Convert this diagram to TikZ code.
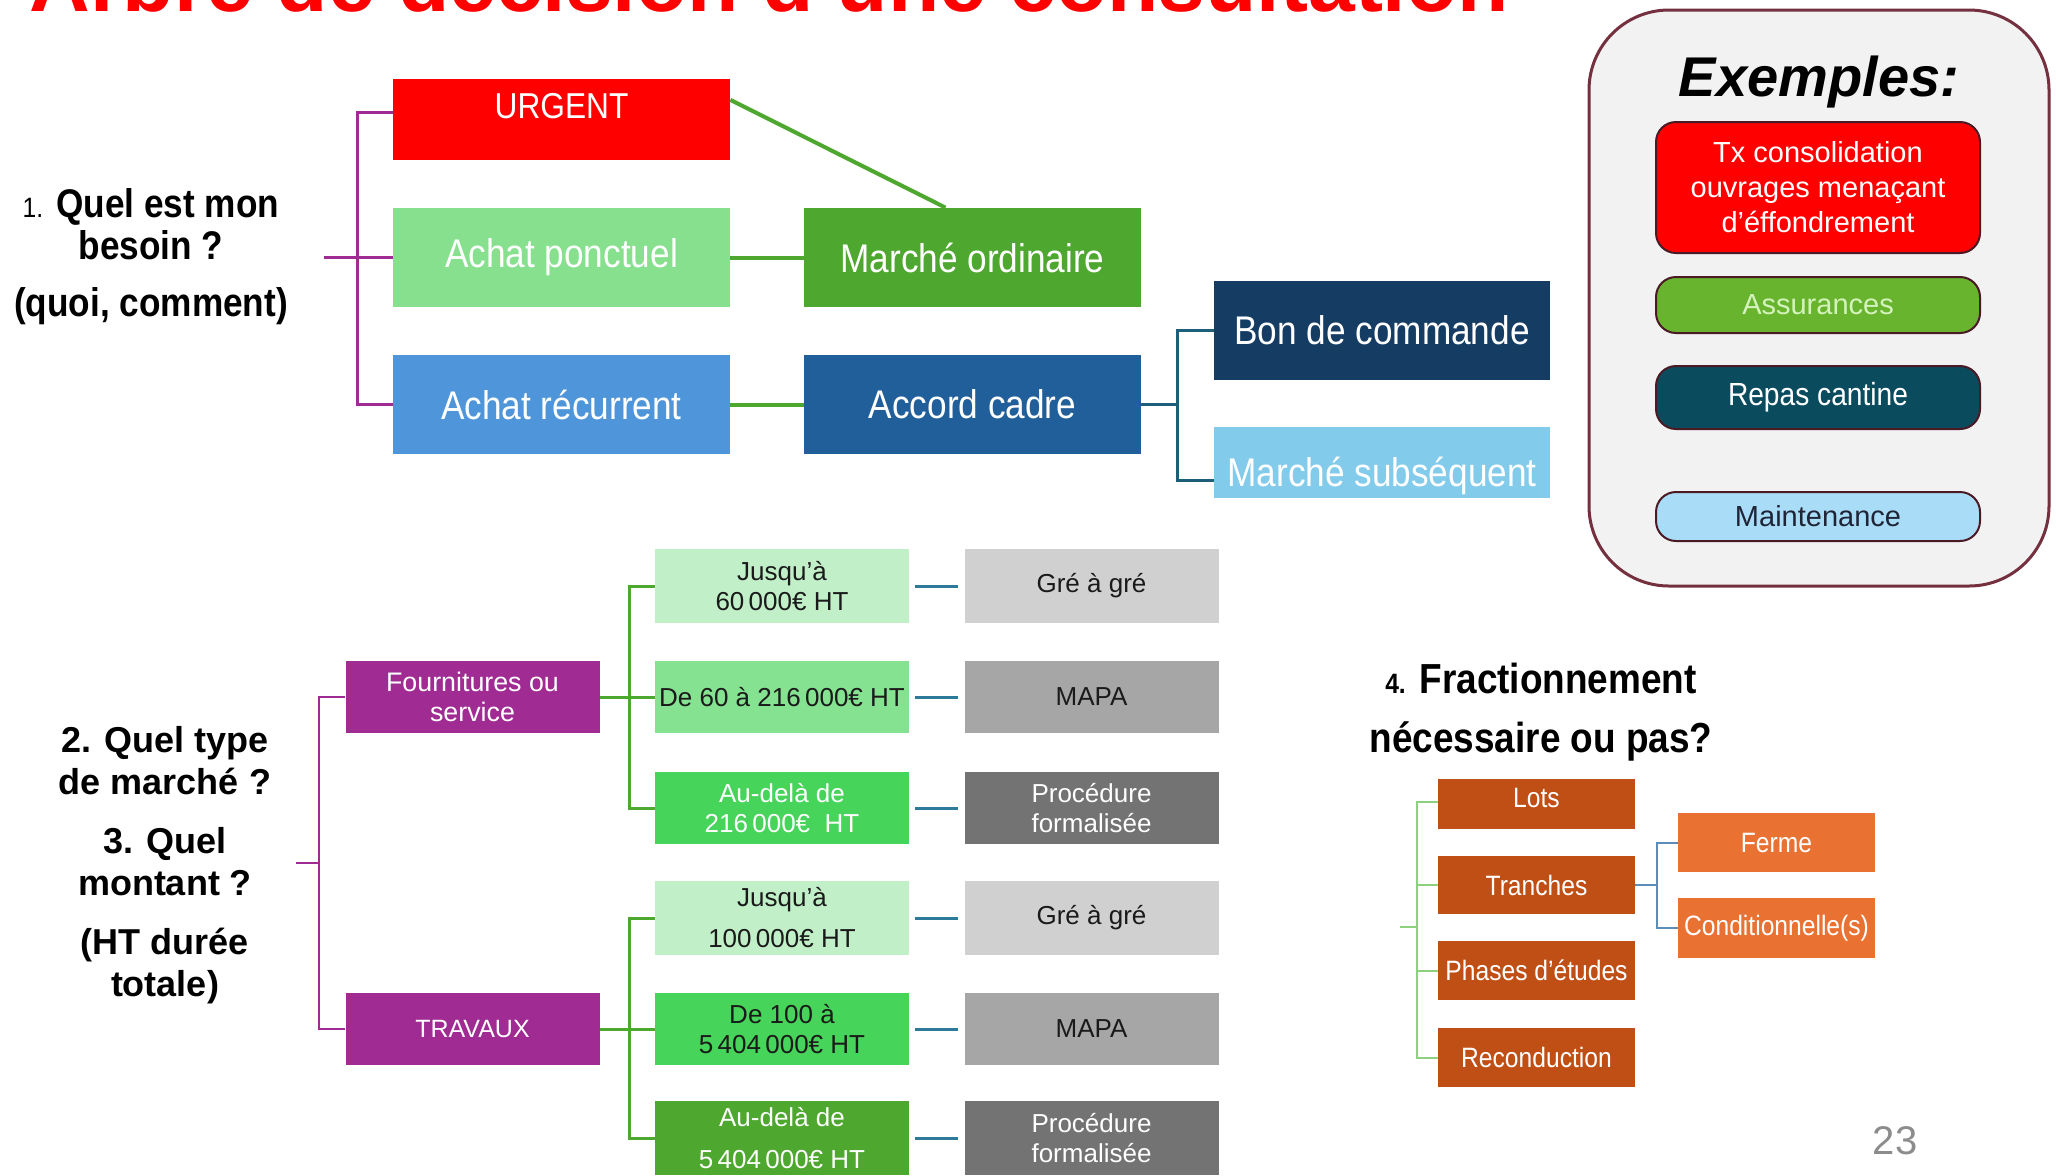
\documentclass[tikz,border=0pt]{standalone}
\usepackage{fontspec}
\setmainfont{Liberation Sans}
\newfontfamily\narrowfont{Liberation Sans}[FakeStretch=0.88]
\usetikzlibrary{calc}

\definecolor{rouge}{HTML}{FF0000}
\definecolor{vertclair}{HTML}{86E08E}
\definecolor{bleuachat}{HTML}{4E95D9}
\definecolor{vertfonce}{HTML}{4EA72E}
\definecolor{bleucadre}{HTML}{215F9A}
\definecolor{bleunuit}{HTML}{153D64}
\definecolor{bleuciel}{HTML}{83CBEB}
\definecolor{violet1}{HTML}{A02B93}
\definecolor{vert1}{HTML}{C1F0C8}
\definecolor{vert2}{HTML}{84E291}
\definecolor{vert3}{HTML}{47D45A}
\definecolor{gris1}{HTML}{D0D0D0}
\definecolor{gris2}{HTML}{A6A6A6}
\definecolor{gris3}{HTML}{737373}
\definecolor{gris23}{HTML}{8C8C8C}
\definecolor{texte}{HTML}{1A1A1A}
\definecolor{fondex}{HTML}{F2F2F2}
\definecolor{bordex}{HTML}{74303F}
\definecolor{bordbox}{HTML}{4A1A25}
\definecolor{vertex}{HTML}{68B42E}
\definecolor{textevert}{HTML}{D4F3BC}
\definecolor{bleuex}{HTML}{0B4B5E}
\definecolor{cielex}{HTML}{A9DDF7}
\definecolor{texteex}{HTML}{1F2537}
\definecolor{orange1}{HTML}{C04F15}
\definecolor{orange2}{HTML}{E97132}
\definecolor{teal1}{HTML}{1D5E7A}
\definecolor{teal2}{HTML}{2E7A9A}
\definecolor{bleutr}{HTML}{5B8DB8}
\definecolor{vertfr}{HTML}{8BD17E}

\newcommand\fsz[2]{\fontsize{#1}{#2}\selectfont}

\begin{document}
\begin{tikzpicture}[x=0.5pt,y=-0.5pt,
  topbox/.style={minimum width=168.5pt,minimum height=49.5pt,inner sep=0pt,text=white,font=\narrowfont\fsz{20}{22}},
  midbox/.style={minimum width=127pt,minimum height=36pt,inner sep=0pt,align=center,font=\fsz{13}{15}},
  exbox/.style={rounded corners=10pt,minimum width=162pt,inner sep=0pt,align=center,draw=bordbox,line width=1pt,font=\fsz{14.5}{17.5}},
  orbox/.style={minimum width=98.5pt,inner sep=0pt,text=white,font=\narrowfont\fsz{14}{16}},
  question/.style={align=center,inner sep=0pt},
  lienviolet/.style={draw=violet1,line width=1.5pt},
  lienvert/.style={draw=vertfonce,line width=2pt},
  lienbleu/.style={draw=teal1,line width=1.5pt}]
\useasboundingbox (0,0) rectangle (2056,1175);
\fill[white] (0,0) rectangle (2056,1175);
\clip (0,0) rectangle (2056,1175);

% titre (coupe en haut)
\node[anchor=base west,inner sep=0pt,text=rouge,font=\bfseries\fsz{42}{42}] (titre) at (29,11) {Arbre de décision d’une consultation};

% 1. besoin
\node[question,font=\narrowfont\bfseries\fsz{20}{21}] (q1) at (151,257) {{\mdseries\fsz{14}{21}1.} Quel est mon\\besoin ?\\[7.5pt](quoi, comment)};
\node[topbox,fill=rouge,minimum height=40.5pt,text height=19.5pt,text depth=21pt,font=\narrowfont\fsz{18}{20}] (urgent) at (561.5,119.5) {URGENT};
\node[topbox,fill=vertclair] (ponctuel) at (561.5,257.5) {Achat ponctuel};
\node[topbox,fill=bleuachat] (recurrent) at (561.5,404.5) {Achat récurrent};
\node[topbox,fill=vertfonce] (ordinaire) at (972.5,257.5) {Marché ordinaire};
\node[topbox,fill=bleucadre] (cadre) at (972.5,404.5) {Accord cadre};
\node[topbox,fill=bleunuit,minimum width=168pt] (boncmd) at (1382,330) {Bon de commande};
\node[topbox,fill=bleuciel,minimum width=168pt,minimum height=35.5pt,text height=29.5pt,text depth=6pt] (subseq) at (1382,462.5) {Marché subséquent};

\coordinate (br1) at (357,257.5);
\coordinate (br1g) at (324,257.5);
\draw[lienviolet] (br1g) -- (br1);
\draw[lienviolet] (urgent.mid west) -| (br1) |- (recurrent.west);
\draw[lienviolet] (br1) -- (ponctuel.west);
\draw[lienvert] (ponctuel) -- (ordinaire);
\draw[lienvert] (recurrent) -- (cadre);
\draw[lienvert] ($(urgent.north east)!0.26!(urgent.south east)$) -- ($(ordinaire.north west)!0.42!(ordinaire.north east)$);
\coordinate (br2) at (1177,404.5);
\draw[lienbleu] (cadre) -- (br2);
\draw[lienbleu] (boncmd.west) -| (br2) |- (subseq.mid west);

% exemples
\draw[fill=fondex,draw=bordex,line width=1.5pt,rounded corners=40pt] (1589,10) rectangle (2049,586);
\node[font=\bfseries\itshape\fsz{28}{30}] (exemples) at (1819,82) {Exemples:};
\node[exbox,fill=rouge,text=white,minimum height=65.5pt] (tx) at (1818,187.5) {Tx consolidation\\ouvrages menaçant\\d’éffondrement};
\node[exbox,fill=vertex,text=textevert,minimum height=28pt] (assur) at (1818,305) {Assurances};
\node[exbox,fill=bleuex,text=white,minimum height=31.5pt,font=\narrowfont\fsz{16}{18}] (repas) at (1818,397.5) {Repas cantine};
\node[exbox,fill=cielex,text=texteex,minimum height=24.5pt] (maint) at (1818,516.5) {Maintenance};

% 2. et 3. type et montant
\node[question,font=\bfseries\fsz{18}{21}] (q2) at (165,865) {2. Quel type\\de marché ?\\[8.5pt]3. Quel\\montant ?\\[8.5pt](HT durée\\totale)};
\node[midbox,fill=violet1,text=white,font=\fsz{13.4}{15}] (fourn) at (472.5,697) {Fournitures ou\\service};
\node[midbox,fill=violet1,text=white,font=\fsz{12.5}{15}] (trav) at (472.5,1029) {TRAVAUX};

\node[midbox,fill=vert1,text=texte,minimum height=37pt] (f1) at (782,586) {Jusqu’à\\60\,000€ HT};
\node[midbox,fill=vert2,text=texte] (f2) at (782,697) {De 60 à 216\,000€ HT};
\node[midbox,fill=vert3,text=white] (f3) at (782,808) {Au-delà de\\216\,000€\ \ HT};
\node[midbox,fill=vert1,text=texte,minimum height=37pt,font=\fsz{13}{20.5}] (t1) at (782,918) {Jusqu’à\\100\,000€ HT};
\node[midbox,fill=vert3,text=texte] (t2) at (782,1029) {De 100 à\\5\,404\,000€ HT};
\node[midbox,fill=vertfonce,text=white,minimum height=37pt,font=\fsz{13}{21}] (t3) at (782,1138) {Au-delà de\\5\,404\,000€ HT};

\node[midbox,fill=gris1,text=texte,minimum height=37pt] (pf1) at (1091.5,586) {Gré à gré};
\node[midbox,fill=gris2,text=texte] (pf2) at (1091.5,697) {MAPA};
\node[midbox,fill=gris3,text=white] (pf3) at (1091.5,808) {Procédure\\formalisée};
\node[midbox,fill=gris1,text=texte,minimum height=37pt] (pt1) at (1091.5,918) {Gré à gré};
\node[midbox,fill=gris2,text=texte] (pt2) at (1091.5,1029) {MAPA};
\node[midbox,fill=gris3,text=white,minimum height=37pt] (pt3) at (1091.5,1138) {Procédure\\formalisée};

\coordinate (br3) at (319,863);
\coordinate (br3g) at (296,863);
\draw[lienviolet,line width=1pt] (br3g) -- (br3);
\draw[lienviolet,line width=1pt] (fourn.west) -| (br3) |- (trav.west);
\coordinate (br4) at (629,697);
\coordinate (br5) at (629,1029);
\draw[lienvert,line width=1.5pt] (fourn) -- (f2);
\draw[lienvert,line width=1.5pt] (f1.west) -| (br4) |- (f3.west);
\draw[lienvert,line width=1.5pt] (trav) -- (t2);
\draw[lienvert,line width=1.5pt] (t1.west) -| (br5) |- (t3.west);
\foreach \i in {1,2,3} {
  \draw[lienbleu,draw=teal2,shorten <=3pt,shorten >=3pt] (f\i) -- (pf\i);
  \draw[lienbleu,draw=teal2,shorten <=3pt,shorten >=3pt] (t\i) -- (pt\i);
}

% 4. fractionnement
\node[question,font=\narrowfont\bfseries\fsz{21}{29.5}] (q4) at (1541,712) {{\fsz{14}{14}4.} Fractionnement\\nécessaire ou pas?};
\node[orbox,fill=orange1,minimum height=25pt,text height=14pt,text depth=11pt] (lots) at (1536.5,804) {Lots};
\node[orbox,fill=orange1,minimum height=29pt] (tranches) at (1536.5,885) {Tranches};
\node[orbox,fill=orange1,minimum height=29.5pt] (phases) at (1536.5,970.5) {Phases d’études};
\node[orbox,fill=orange1,minimum height=29.5pt] (recond) at (1536.5,1057.5) {Reconduction};
\node[orbox,fill=orange2,minimum height=29.5pt] (ferme) at (1776.5,842.5) {Ferme};
\node[orbox,fill=orange2,minimum height=30pt] (cond) at (1776.5,928) {Conditionnelle(s)};

\coordinate (br6) at (1417,927);
\coordinate (br6g) at (1400,927);
\draw[draw=vertfr,line width=1pt] (br6g) -- (br6);
\draw[draw=vertfr,line width=1pt] (lots.mid west) -| (br6) |- (recond.west);
\draw[draw=vertfr,line width=1pt] (tranches.west) -- (tranches.west -| br6);
\draw[draw=vertfr,line width=1pt] (phases.west) -- (phases.west -| br6);
\coordinate (br7) at (1657,885);
\draw[draw=bleutr,line width=1pt] (tranches) -- (br7);
\draw[draw=bleutr,line width=1pt] (ferme.west) -| (br7) |- (cond.west);

\node[text=gris23,font=\fsz{20}{20}] (page) at (1895,1141) {23};
\end{tikzpicture}
\end{document}
